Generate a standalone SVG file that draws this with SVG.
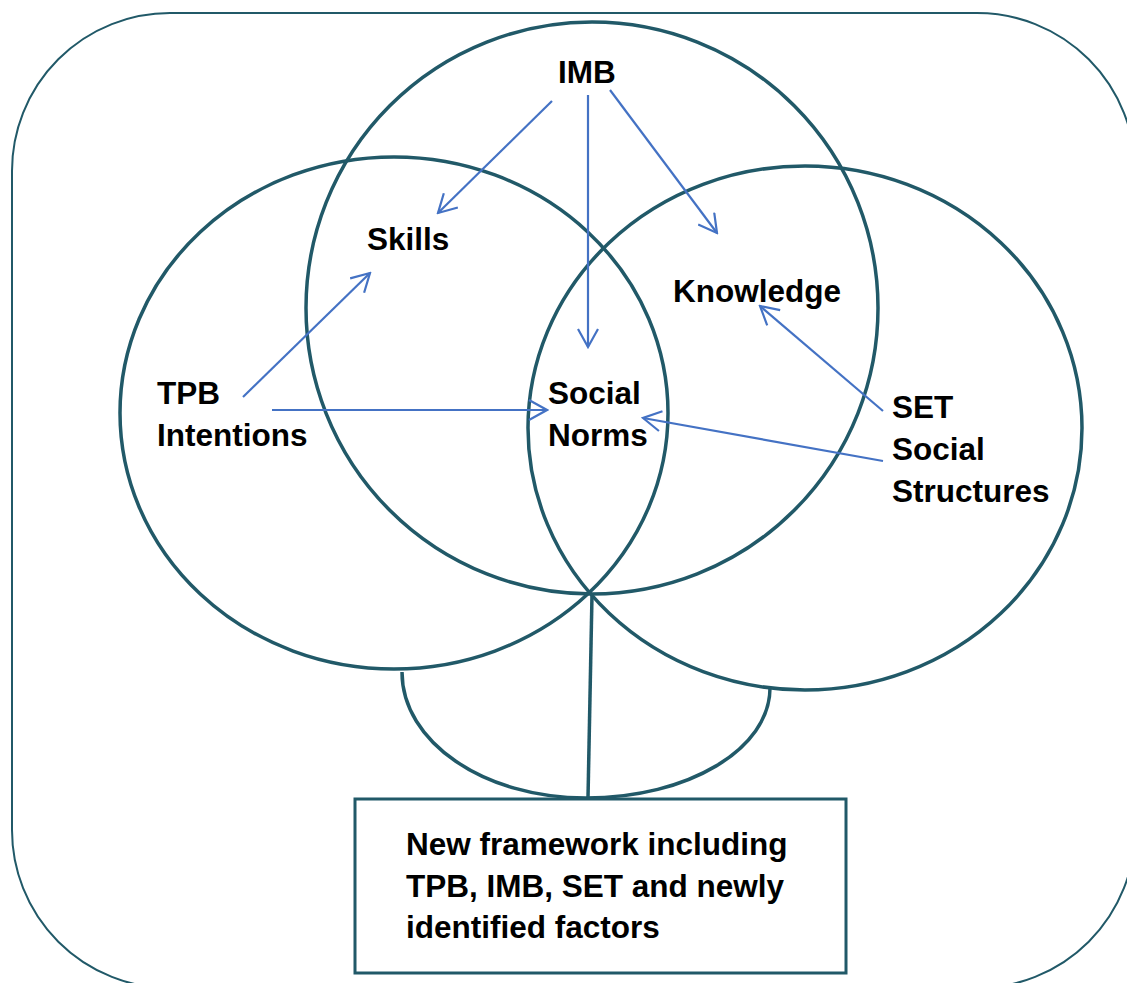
<svg xmlns="http://www.w3.org/2000/svg" width="1127" height="983" viewBox="0 0 1127 983">
<style>
.frame{fill:none;stroke:#215968;stroke-width:2}
.ring{fill:none;stroke:#215968;stroke-width:3.5}
.arr{fill:none;stroke:#4472C4;stroke-width:2.2}
.lbl{font-family:"Liberation Sans",Arial,sans-serif;font-weight:bold;font-size:31.5px;fill:#000}
</style>
<defs>
<marker id="ah" markerUnits="userSpaceOnUse" viewBox="0 0 22 22" markerWidth="22" markerHeight="22" refX="20" refY="11" orient="auto">
<path d="M2,1 L20,11 L2,21" fill="none" stroke="#4472C4" stroke-width="2.2"/>
</marker>
</defs>
<rect class="frame" x="12" y="13" width="1123" height="975" rx="158" ry="158"/>
<g id="circle-tpb"><ellipse class="ring" cx="394" cy="413" rx="274" ry="256"/></g>
<g id="circle-imb"><circle class="ring" cx="592" cy="308" r="286"/></g>
<g id="circle-set"><ellipse class="ring" cx="805" cy="428" rx="277" ry="262"/></g>
<g id="base-arc"><path class="ring" d="M402,672 C402,742 484,798 586,798 C688,798 770,749 770,688"/></g>
<g id="connectors">
<line class="ring" x1="592" y1="595" x2="588" y2="798"/>
<line class="arr" x1="552" y1="101" x2="438" y2="213" marker-end="url(#ah)"/>
<line class="arr" x1="588" y1="95" x2="588" y2="347" marker-end="url(#ah)"/>
<line class="arr" x1="610" y1="90" x2="717" y2="233" marker-end="url(#ah)"/>
<line class="arr" x1="243" y1="397" x2="370" y2="273" marker-end="url(#ah)"/>
<line class="arr" x1="272" y1="410" x2="547" y2="410" marker-end="url(#ah)"/>
<line class="arr" x1="883" y1="411" x2="760" y2="306" marker-end="url(#ah)"/>
<line class="arr" x1="883" y1="461" x2="643" y2="418" marker-end="url(#ah)"/>
</g>
<g id="imb"><text class="lbl" x="558" y="83">IMB</text></g>
<g id="skills"><text class="lbl" x="367" y="250">Skills</text></g>
<g id="knowledge"><text class="lbl" x="673" y="302">Knowledge</text></g>
<g id="tpb"><text class="lbl" x="157" y="404">TPB</text><text class="lbl" x="157" y="446">Intentions</text></g>
<g id="social-norms"><text class="lbl" x="548" y="404">Social</text><text class="lbl" x="548" y="446">Norms</text></g>
<g id="set"><text class="lbl" x="892" y="418">SET</text><text class="lbl" x="892" y="460">Social</text><text class="lbl" x="892" y="502">Structures</text></g>
<g id="new-framework">
<rect x="355" y="799" width="491" height="174" fill="#fff" stroke="#215968" stroke-width="3"/>
<text class="lbl" x="406" y="855">New framework including</text>
<text class="lbl" x="406" y="897">TPB, IMB, SET and newly</text>
<text class="lbl" x="406" y="938">identified factors</text>
</g>
</svg>
